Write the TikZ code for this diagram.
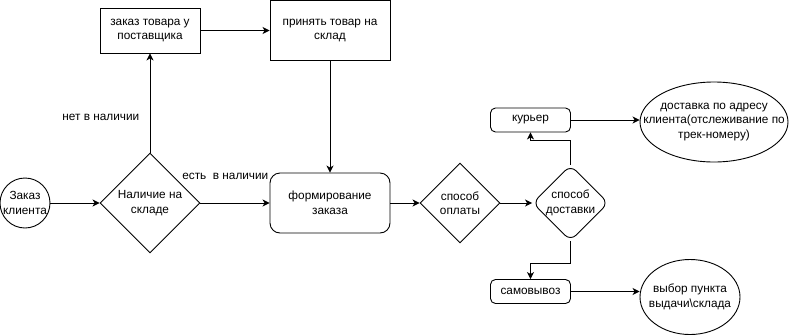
\documentclass[tikz,border=0pt]{standalone}
\usepackage{fontspec}
\setmainfont{Liberation Sans}
\usetikzlibrary{shapes.geometric,arrows.meta}

\tikzset{
  flow/.style={line width=0.9pt, -{Stealth[length=7pt,width=7pt,inset=2pt]}},
  box/.style={draw, line width=0.9pt, align=center, inner sep=0pt},
  choice/.style={draw, diamond, aspect=1, line width=0.9pt, align=center},
  oval/.style={draw, ellipse, line width=0.9pt, align=center},
}

\begin{document}
\begin{tikzpicture}[x=1pt, y=-1pt, font=\fontsize{11.8}{14.5}\selectfont]
        \useasboundingbox (0, 0) rectangle (791, 335);

        \node[draw, circle, line width=0.9pt, minimum size=50pt, inner sep=-6pt, align=center] (ZK) at (25, 203) {Заказ\\клиента};
        \node[choice, minimum size=100pt, inner sep=-2pt] (NS) at (150, 203) {Наличие на\\складе};
        \node[box, minimum width=100pt, minimum height=45pt] (ZP) at (150, 30.5) {заказ товара у\\поставщика};
        \node[box, minimum width=120pt, minimum height=60pt] (PT) at (330, 30.5) {принять товар на\\склад};
        \node[box, rounded corners=10pt, minimum width=120pt, minimum height=60pt] (FZ) at (330, 203) {формирование\\заказа};
        \node[choice, minimum size=80pt, inner sep=-5pt] (SO) at (460, 203) {способ\\оплаты};
        \node[choice, rounded corners=8pt, minimum size=76pt, inner sep=-8pt] (SD) at (570.5, 203) {способ\\доставки};
        \node[box, rounded corners=5pt, minimum width=80pt, minimum height=24pt] (KU) at (530.5, 120) {курьер};
        \node[box, rounded corners=5pt, minimum width=80pt, minimum height=24pt] (SV) at (530.5, 291.5) {самовывоз};
        \node[oval, minimum width=148pt, minimum height=80pt, inner sep=-24pt] (DA) at (714, 122) {доставка по адресу\\клиента(отслеживание по\\трек-номеру)};
        \node[oval, minimum width=100pt, minimum height=75pt, inner sep=-12pt] (VP) at (690, 297) {выбор пункта\\выдачи\textbackslash склада};

        \draw[flow] (ZK) -- (NS);
        \draw[flow] (NS) -- node[pos=0.36, above=20pt] {есть\ \ в наличии} (FZ);
        \draw[flow] (NS) -- node[pos=0.35, left=7pt] {нет в наличии} (ZP);
        \draw[flow] (ZP) -- (PT);
        \draw[flow] (PT) -- (FZ);
        \draw[flow] (FZ) -- (SO);
        \draw[flow] (SO) -- (SD);
        \draw[flow] (SD.north) -- ++(0, -24) -| (KU.south);
        \draw[flow] (SD.south) -- ++(0, 22) -| (SV.north);
        \draw[flow] (KU.east) -- (KU.east -| DA.west);
        \draw[flow] (SV.east) -- (SV.east -| VP.west);
    \end{tikzpicture}
\end{document}
